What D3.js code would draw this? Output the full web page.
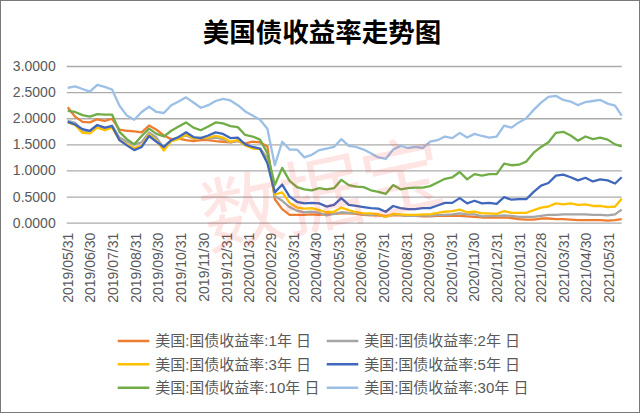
<!DOCTYPE html>
<html><head><meta charset="utf-8">
<script src="https://cdn.jsdelivr.net/npm/d3@7/dist/d3.min.js"></script>
<style>
html,body{margin:0;padding:0;background:#fff;}
svg{display:block;}
text{font-family:"Liberation Sans","Noto Sans CJK SC",sans-serif;}
</style></head>
<body>
<svg id="chart" width="640" height="413"></svg>
<script>
const title = "美国债收益率走势图";
const dates = ["2019-05-31","2019-06-10","2019-06-20","2019-06-30","2019-07-10","2019-07-20","2019-07-30","2019-08-09","2019-08-19","2019-08-29",
"2019-09-08","2019-09-18","2019-09-28","2019-10-08","2019-10-18","2019-10-28","2019-11-07","2019-11-17","2019-11-27","2019-12-07",
"2019-12-17","2019-12-27","2020-01-06","2020-01-16","2020-01-26","2020-02-05","2020-02-15","2020-02-25","2020-03-06","2020-03-16",
"2020-03-26","2020-04-05","2020-04-15","2020-04-25","2020-05-05","2020-05-15","2020-05-25","2020-06-04","2020-06-14","2020-06-24",
"2020-07-04","2020-07-14","2020-07-24","2020-08-03","2020-08-13","2020-08-23","2020-09-02","2020-09-12","2020-09-22","2020-10-02",
"2020-10-12","2020-10-22","2020-11-01","2020-11-11","2020-11-21","2020-12-01","2020-12-11","2020-12-21","2020-12-31","2021-01-10",
"2021-01-20","2021-01-30","2021-02-09","2021-02-19","2021-03-01","2021-03-11","2021-03-21","2021-03-31","2021-04-10","2021-04-20",
"2021-04-30","2021-05-10","2021-05-20","2021-05-30","2021-06-09","2021-06-18"];

const y1 = [2.21,2.03,1.93,1.92,1.98,1.95,1.99,1.78,1.76,1.75,1.73,1.86,1.78,1.67,1.60,1.61,1.58,1.56,1.58,1.58,
1.56,1.55,1.54,1.56,1.52,1.55,1.54,1.46,0.45,0.26,0.15,0.15,0.15,0.16,0.15,0.16,0.17,0.18,0.18,0.17,
0.15,0.14,0.14,0.13,0.14,0.14,0.13,0.13,0.12,0.12,0.13,0.13,0.13,0.13,0.12,0.11,0.10,0.10,0.10,0.10,
0.09,0.07,0.06,0.06,0.08,0.08,0.07,0.07,0.06,0.05,0.05,0.05,0.05,0.04,0.05,0.07];
const y2 = [1.95,1.91,1.77,1.75,1.86,1.80,1.86,1.63,1.55,1.50,1.54,1.73,1.63,1.43,1.58,1.63,1.67,1.61,1.63,1.61,
1.63,1.60,1.54,1.57,1.49,1.43,1.42,1.24,0.51,0.42,0.30,0.23,0.20,0.21,0.19,0.14,0.17,0.20,0.19,0.18,
0.16,0.15,0.15,0.11,0.16,0.15,0.13,0.13,0.14,0.13,0.15,0.15,0.16,0.18,0.16,0.16,0.12,0.13,0.13,0.14,
0.13,0.11,0.11,0.11,0.13,0.15,0.15,0.16,0.16,0.16,0.16,0.15,0.15,0.14,0.16,0.25];
const y3 = [1.92,1.87,1.72,1.71,1.82,1.77,1.82,1.58,1.50,1.43,1.47,1.69,1.57,1.38,1.56,1.60,1.69,1.61,1.62,1.63,
1.66,1.63,1.55,1.58,1.48,1.42,1.41,1.17,0.54,0.58,0.38,0.29,0.27,0.28,0.24,0.20,0.21,0.29,0.24,0.20,
0.18,0.18,0.16,0.11,0.17,0.16,0.15,0.15,0.16,0.16,0.19,0.21,0.22,0.25,0.20,0.21,0.18,0.18,0.17,0.22,
0.19,0.19,0.19,0.24,0.29,0.31,0.37,0.35,0.37,0.34,0.35,0.32,0.32,0.30,0.31,0.46];
const y5 = [1.93,1.88,1.79,1.76,1.87,1.82,1.85,1.58,1.48,1.39,1.45,1.66,1.55,1.45,1.58,1.64,1.73,1.64,1.62,1.67,
1.73,1.70,1.62,1.63,1.50,1.45,1.42,1.14,0.58,0.73,0.50,0.40,0.37,0.38,0.37,0.31,0.34,0.47,0.34,0.32,
0.30,0.28,0.27,0.21,0.32,0.28,0.26,0.26,0.28,0.28,0.33,0.38,0.38,0.47,0.37,0.42,0.37,0.38,0.36,0.49,
0.44,0.45,0.45,0.59,0.71,0.76,0.90,0.92,0.87,0.81,0.86,0.79,0.83,0.81,0.75,0.87];
const y10 = [2.14,2.12,2.06,2.03,2.08,2.07,2.07,1.74,1.60,1.50,1.66,1.80,1.70,1.65,1.76,1.84,1.92,1.82,1.77,1.84,
1.92,1.90,1.85,1.83,1.68,1.65,1.59,1.33,0.72,1.05,0.80,0.68,0.64,0.62,0.66,0.64,0.66,0.82,0.72,0.69,
0.68,0.62,0.59,0.55,0.72,0.64,0.66,0.67,0.67,0.70,0.77,0.84,0.87,0.97,0.83,0.93,0.90,0.93,0.93,1.13,
1.10,1.11,1.17,1.34,1.45,1.54,1.72,1.74,1.67,1.57,1.65,1.60,1.63,1.59,1.50,1.46];
const y30 = [2.58,2.61,2.56,2.51,2.64,2.60,2.55,2.24,2.05,1.97,2.12,2.22,2.12,2.10,2.25,2.32,2.40,2.30,2.20,2.25,
2.33,2.37,2.34,2.25,2.13,2.05,1.97,1.80,1.10,1.55,1.40,1.40,1.25,1.30,1.39,1.42,1.45,1.60,1.47,1.45,
1.40,1.33,1.25,1.22,1.40,1.47,1.43,1.45,1.43,1.55,1.58,1.65,1.62,1.72,1.63,1.70,1.66,1.63,1.65,1.86,
1.82,1.92,2.00,2.16,2.30,2.41,2.43,2.35,2.32,2.25,2.31,2.33,2.35,2.28,2.24,2.05];

const seriesNames = ["美国:国债收益率:1年 日","美国:国债收益率:2年 日","美国:国债收益率:3年 日","美国:国债收益率:5年 日","美国:国债收益率:10年 日","美国:国债收益率:30年 日"];
const seriesColors = ["#ED7D31","#A5A5A5","#FFC000","#3F68BC","#70AD47","#9CBFE6"];
const yTicks = [0,0.5,1,1.5,2,2.5,3];
const xTickLabels = ["2019/05/31","2019/06/30","2019/07/31","2019/08/31","2019/09/30","2019/10/31","2019/11/30","2019/12/31",
"2020/01/31","2020/02/29","2020/03/31","2020/04/30","2020/05/31","2020/06/30","2020/07/31","2020/08/31","2020/09/30",
"2020/10/31","2020/11/30","2020/12/31","2021/01/31","2021/02/28","2021/03/31","2021/04/30","2021/05/31"];
const watermark = "数据宝";

const svg = d3.select("#chart");
const W = 640, H = 413;
const parse = d3.timeParse("%Y-%m-%d");
const parseTick = d3.timeParse("%Y/%m/%d");
const xDates = dates.map(parse);
const allSeries = [y1,y2,y3,y5,y10,y30];

const x = d3.scaleTime().domain([xDates[0], xDates[xDates.length-1]]).range([67.7, 621.7]);
const y = d3.scaleLinear().domain([0,3]).range([222.7, 66]);

svg.append("rect").attr("x",0.5).attr("y",0.5).attr("width",W-1).attr("height",H-1)
  .attr("fill","#fff").attr("stroke","#7a7a7a");

svg.append("text").attr("x",322).attr("y",42).attr("text-anchor","middle")
  .attr("font-size",26.5).attr("font-weight","bold").attr("fill","#000")
  .style("font-family","'Noto Sans CJK SC',sans-serif").text(title);

// gridlines
const yAxis = d3.axisLeft(y).tickValues(yTicks).tickFormat(d3.format(".4f")).tickSize(-(621.7-66.7)).tickPadding(11);
const gy = svg.append("g").attr("transform","translate(66.7,0)").call(yAxis);
gy.select(".domain").remove();
gy.selectAll(".tick line").attr("stroke","#ABABAB").attr("stroke-width",1.3);
gy.selectAll(".tick text").attr("font-size",14).attr("fill","#595959");

// x axis labels
const xAxis = d3.axisBottom(x).tickValues(xTickLabels.map(parseTick)).tickFormat(d3.timeFormat("%Y/%m/%d")).tickSize(0);
const gx = svg.append("g").attr("transform","translate(0,222.7)").call(xAxis);
gx.select(".domain").remove();
gx.selectAll(".tick text").attr("font-size",14).attr("fill","#595959")
  .attr("text-anchor","end").attr("transform","rotate(-90)")
  .attr("x",-10).attr("y",0).attr("dy","0.36em");

// lines
const line = d3.line().x((d,i)=>x(xDates[i])).y(d=>y(d));
allSeries.forEach((s,k)=>{
  svg.append("path").datum(s).attr("d",line).attr("fill","none")
    .attr("stroke",seriesColors[k]).attr("stroke-width",2.3).attr("stroke-linejoin","round");
});

// watermark
svg.append("text").attr("transform","translate(328,224) rotate(-12)")
  .attr("text-anchor","middle").attr("font-size",82)
  .style("font-family","'Noto Sans CJK SC',sans-serif")
  .attr("fill","#ff3030").attr("fill-opacity",0.13).text(watermark);

// legend
const legX = [117.7, 326.7];
const legY = [341, 364.3, 387.7];
seriesNames.forEach((n,k)=>{
  const cx = legX[k%2], cy = legY[Math.floor(k/2)];
  const g = svg.append("g").attr("transform",`translate(${cx},${cy})`);
  g.append("line").attr("x1",0).attr("x2",31.6).attr("y1",0).attr("y2",0)
    .attr("stroke",seriesColors[k]).attr("stroke-width",2.4);
  g.append("text").attr("x",37.5).attr("y",0).attr("dy","0.36em").attr("font-size",15)
    .attr("fill","#595959").text(n);
});
</script>
</body></html>
